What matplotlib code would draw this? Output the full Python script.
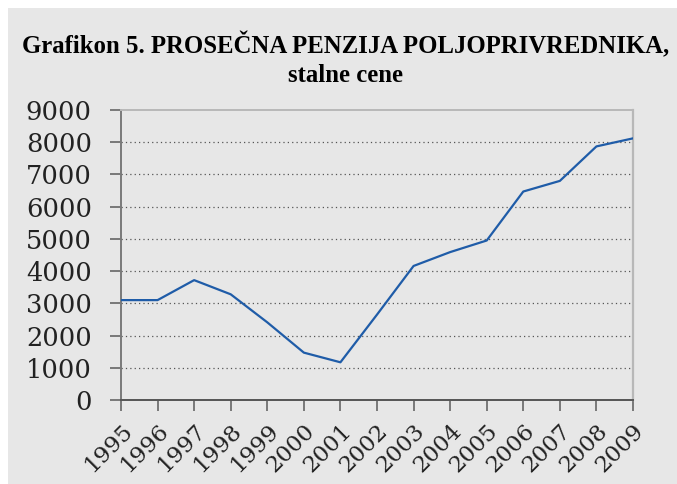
import matplotlib.pyplot as plt
from matplotlib.patches import Rectangle

# Prosecna penzija poljoprivrednika, stalne cene
years = ['1995', '1996', '1997', '1998', '1999', '2000', '2001', '2002',
         '2003', '2004', '2005', '2006', '2007', '2008', '2009']
penzija = [3100, 3100, 3720, 3280, 2410, 1470, 1170, 2650,
           4160, 4590, 4950, 6470, 6800, 7870, 8120]
y_ticks = [0, 1000, 2000, 3000, 4000, 5000, 6000, 7000, 8000, 9000]

bg = '#e7e7e7'

fig = plt.figure(figsize=(6.77, 4.84), dpi=100, facecolor='white')
# gray panel with a thin white strip at top and left
fig.patches.append(Rectangle((8 / 677, 0), 1, (484 - 8) / 484,
                             transform=fig.transFigure, facecolor=bg,
                             edgecolor='none', zorder=-5))

ax = fig.add_axes([121 / 677, 84 / 484, 512 / 677, 290 / 484])
ax.set_facecolor(bg)

x = list(range(len(years)))
ax.plot(x, penzija, color='#1f5ca8', linewidth=1.6, zorder=3)

ax.set_xlim(0, len(years) - 1)
ax.set_ylim(0, 9000)
ax.set_yticks(y_ticks)
ax.set_yticklabels([str(v) for v in y_ticks], fontfamily='DejaVu Serif',
                   fontsize=18.5, color='#222222')
ax.set_xticks(x)
ax.set_xticklabels(years, rotation=45, ha='right', va='top',
                   rotation_mode='anchor', fontfamily='DejaVu Serif',
                   fontsize=16.5, color='#222222')

for v in y_ticks[1:-1]:
    ax.axhline(v, color='#555555', linestyle=(0, (1, 2.5)), linewidth=0.9, zorder=1)

ax.spines['left'].set_color('#7a7a7a')
ax.spines['left'].set_linewidth(1.4)
ax.spines['bottom'].set_color('#555555')
ax.spines['bottom'].set_linewidth(1.4)
ax.spines['top'].set_color('#b8b8b8')
ax.spines['top'].set_linewidth(1.4)
ax.spines['right'].set_color('#b8b8b8')
ax.spines['right'].set_linewidth(1.6)
ax.tick_params(axis='both', length=8, width=1.2, color='#666666', direction='out')
ax.tick_params(axis='y', pad=13)
ax.tick_params(axis='x', pad=6)

fig.text(0.51, 1 - 45 / 484, 'Grafikon 5. PROSEČNA PENZIJA POLJOPRIVREDNIKA,',
         ha='center', va='center', fontfamily='Liberation Serif',
         fontweight='bold', fontsize=17.8, color='black')
fig.text(0.51, 1 - 76 / 484, 'stalne cene', ha='center', va='center',
         fontfamily='Liberation Serif', fontweight='bold', fontsize=17.8,
         color='black')

fig.savefig('out.png', dpi=100, facecolor='white')
